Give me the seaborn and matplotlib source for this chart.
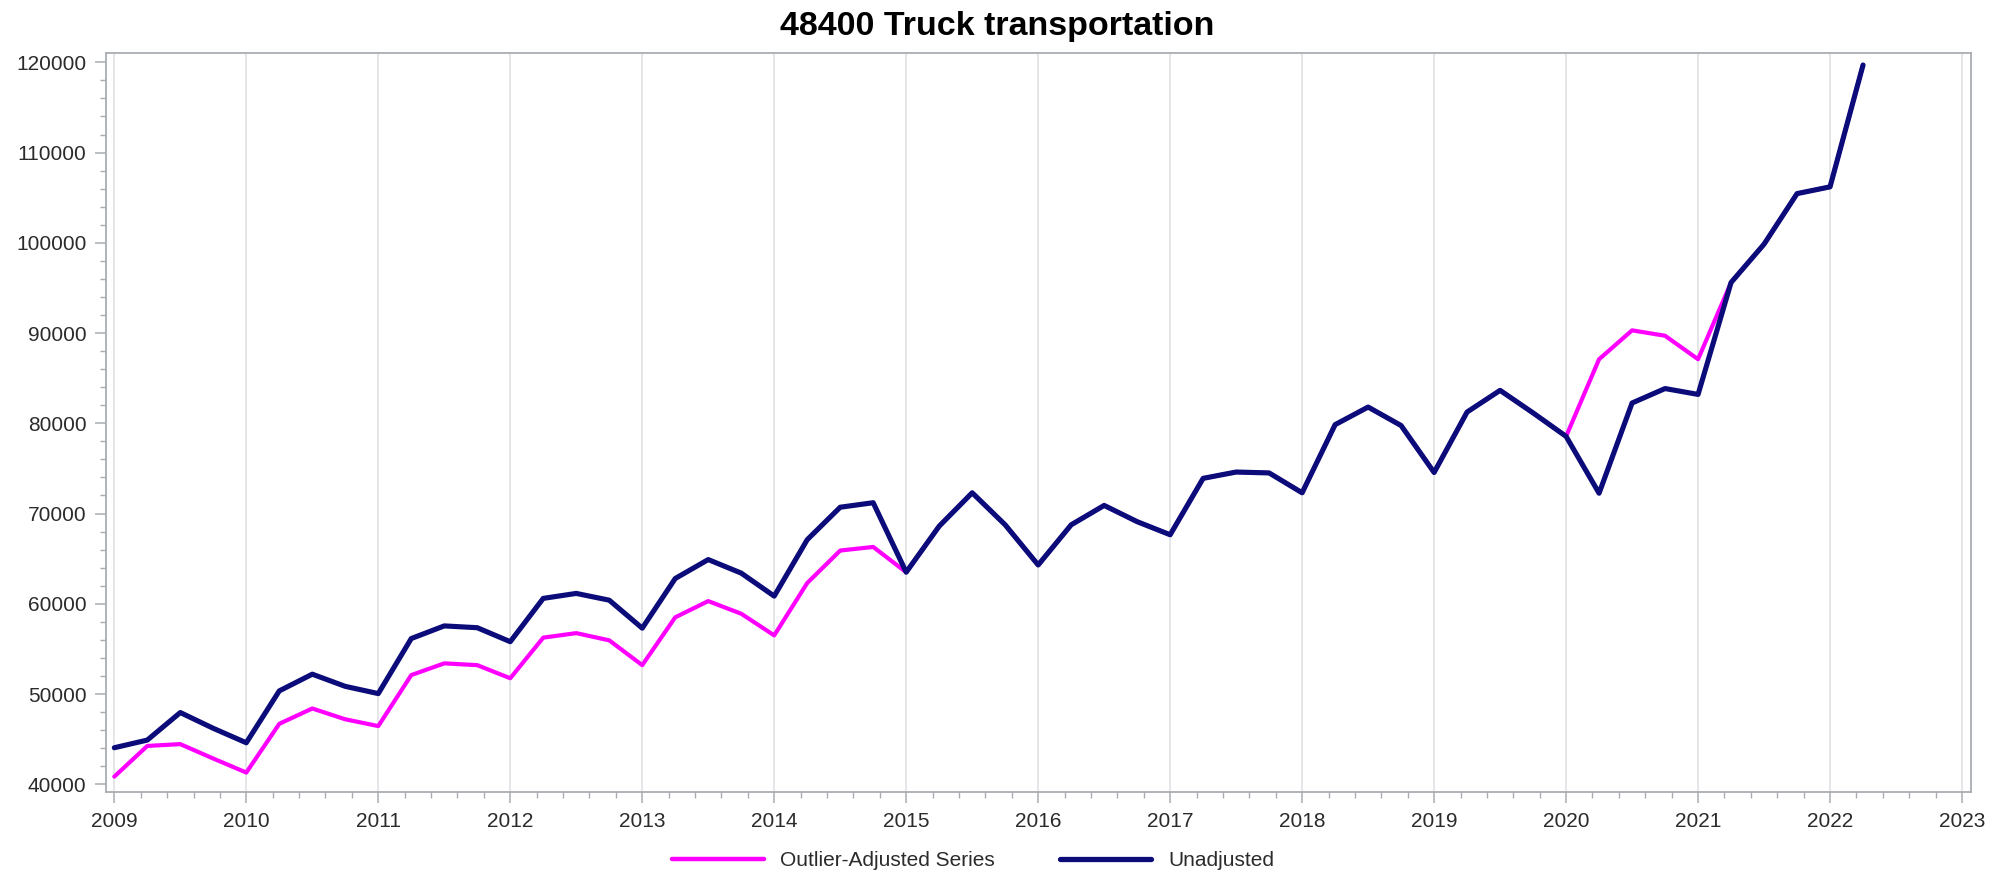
import numpy as np
import pandas as pd
import matplotlib
matplotlib.use("Agg")
import matplotlib.pyplot as plt
from matplotlib.ticker import MultipleLocator
from matplotlib.lines import Line2D
import seaborn as sns

# ---- data (quarterly, 2009Q1 .. 2022Q2) ----
start_quarter = "2009Q1"
unadjusted = [
    44050, 44900, 47950, 46200,
    44600, 50350, 52200, 50850,
    50050, 56150, 57550, 57350,
    55800, 60600, 61150, 60400,
    57300, 62800, 64900, 63400,
    60850, 67100, 70700, 71200,
    63500, 68600, 72300, 68750,
    64300, 68750, 70900, 69100,
    67650, 73900, 74600, 74500,
    72300, 79850, 81800, 79750,
    74550, 81250, 83650, 81150,
    78550, 72250, 82250, 83850,
    83200, 95600, 99850, 105450,
    106200, 119700,
]
outlier_adjusted = [
    40850, 44250, 44450, 42850,
    41300, 46700, 48400, 47200,
    46450, 52100, 53400, 53200,
    51750, 56250, 56750, 55950,
    53200, 58500, 60300, 58900,
    56500, 62300, 65900, 66300,
    63500, 68600, 72300, 68750,
    64300, 68750, 70900, 69100,
    67650, 73900, 74600, 74500,
    72300, 79850, 81800, 79750,
    74550, 81250, 83650, 81150,
    78550, 87100, 90300, 89700,
    87100, 95600, 99850, 105450,
    106200, 119700,
]
series_names = ["Outlier-Adjusted Series", "Unadjusted"]
series_colors = ["#ff00ff", "#0b0b7a"]
title = "48400 Truck transportation"
x_ticks = list(range(2009, 2024))
y_ticks = list(range(40000, 120001, 10000))

periods = pd.period_range(start_quarter, periods=len(unadjusted), freq="Q")
t = np.array([p.year + (p.quarter - 1) / 4 for p in periods])
df = pd.concat([
    pd.DataFrame({"t": t, "value": outlier_adjusted, "series": series_names[0]}),
    pd.DataFrame({"t": t, "value": unadjusted, "series": series_names[1]}),
])

sns.set_theme(style="white")
plt.rcParams["font.family"] = ["Liberation Sans", "DejaVu Sans"]

fig = plt.figure(figsize=(20, 8.74), dpi=100)
ax = fig.add_axes([0.053, 0.0935, 0.9855 - 0.053, 0.939 - 0.0935])

sns.lineplot(data=df[df.series == series_names[0]], x="t", y="value",
             color=series_colors[0], linewidth=3.0, ax=ax, legend=False, zorder=3)
sns.lineplot(data=df[df.series == series_names[1]], x="t", y="value",
             color=series_colors[1], linewidth=3.7, ax=ax, legend=False, zorder=4)

ax.set_xlim(2008.937, 2023.068)
ax.set_ylim(39114, 120997)
ax.set_xticks(x_ticks)
ax.set_xticklabels([str(v) for v in x_ticks])
ax.set_yticks(y_ticks)
ax.set_yticklabels([str(v) for v in y_ticks])
ax.xaxis.set_minor_locator(MultipleLocator(0.2))
ax.yaxis.set_minor_locator(MultipleLocator(2000))
ax.set_xlabel("")
ax.set_ylabel("")

ax.grid(False)
for xv in x_ticks:
    ax.axvline(xv, color="#e4e6e8", linewidth=1.4, zorder=0)

spine_col = "#a9adb2"
for s in ax.spines.values():
    s.set_color(spine_col)
    s.set_linewidth(1.3)

ax.tick_params(axis="both", which="major", direction="out", length=8, width=1.1,
               color=spine_col, labelsize=15, labelcolor="#2b2b2b", pad=6)
ax.tick_params(axis="both", which="minor", direction="out", length=4, width=1.0,
               color=spine_col)
ax.tick_params(axis="both", which="both", bottom=True, left=True, top=False, right=False)

fig.text(0.4985, 0.970, title, ha="center", va="center", fontsize=24.5,
         fontweight="bold", color="black")

handles = [Line2D([0], [0], color=series_colors[0], linewidth=3.2),
           Line2D([0], [0], color=series_colors[1], linewidth=3.8)]
fig.legend(handles, series_names, loc="center", bbox_to_anchor=(0.4865, 0.0155),
           ncol=2, frameon=False, fontsize=15, handlelength=4.4, handletextpad=0.8,
           columnspacing=3.1, labelcolor="#2b2b2b", borderpad=0.1)

fig.savefig("out.png", dpi=100)
